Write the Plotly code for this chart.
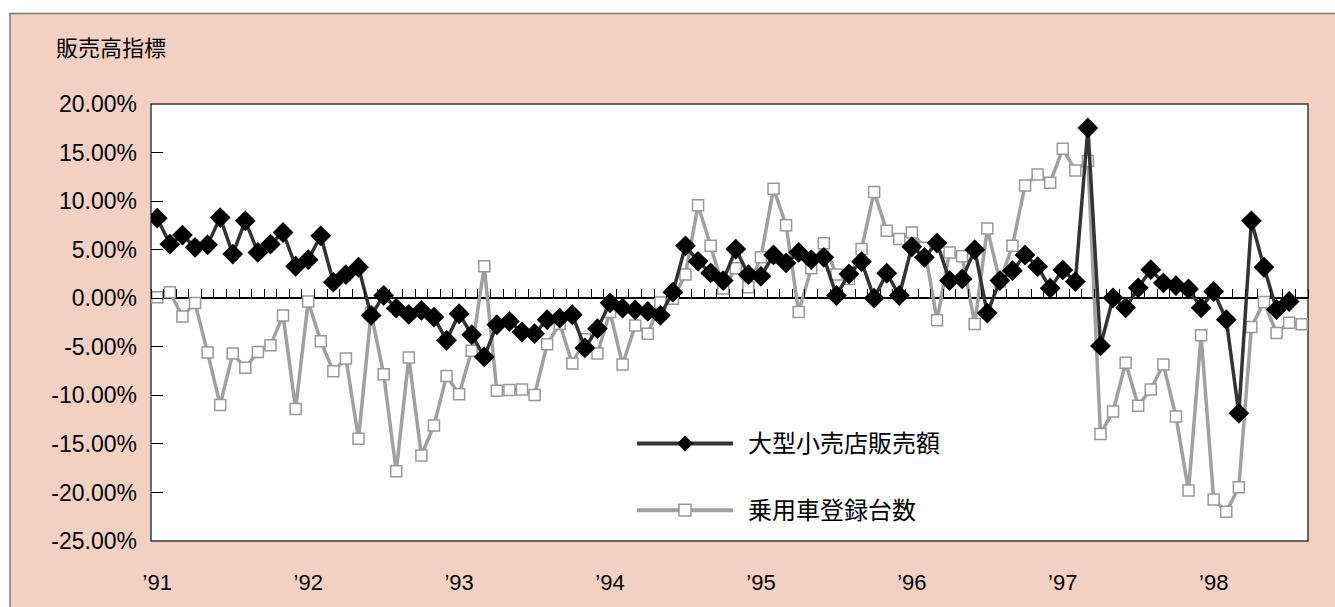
import plotly.graph_objects as go

# Monthly series, Jan 1991 – Aug 1998 (year-on-year change, %)
months = [f"{y}-{m:02d}" for y in range(1991, 1999) for m in range(1, 13)][:92]

# 大型小売店販売額 (ends Jul 1998)
retail_sales = [
    8.24, 5.57, 6.50, 5.24, 5.50, 8.30, 4.55, 7.97, 4.72, 5.57, 6.77, 3.29,
    3.97, 6.43, 1.65, 2.43, 3.19, -1.77, 0.28, -1.02, -1.67, -1.26, -1.94, -4.33,
    -1.60, -3.75, -6.04, -2.73, -2.39, -3.48, -3.65, -2.21, -2.04, -1.70, -5.12, -3.14,
    -0.47, -1.02, -1.19, -1.36, -1.77, 0.62, 5.40, 3.80, 2.60, 1.82, 5.06, 2.43,
    2.26, 4.45, 3.63, 4.72, 3.97, 4.21, 0.28, 2.50, 3.76, 0.01, 2.57, 0.28,
    5.30, 4.21, 5.68, 1.82, 1.99, 4.99, -1.53, 1.82, 2.84, 4.45, 3.25, 1.03,
    2.91, 1.71, 17.54, -4.91, 0.04, -0.98, 1.07, 2.94, 1.58, 1.30, 0.96, -0.98,
    0.69, -2.21, -11.85, 7.97, 3.19, -1.16, -0.34,
]

# 乗用車登録台数 (ends Aug 1998)
car_registrations = [
    0.11, 0.62, -1.87, -0.50, -5.60, -11.00, -5.70, -7.17, -5.53, -4.85, -1.77, -11.40,
    -0.34, -4.44, -7.51, -6.21, -14.48, -1.50, -7.82, -17.83, -6.11, -16.20, -13.11, -8.02,
    -9.90, -5.42, 3.29, -9.52, -9.46, -9.39, -9.97, -4.74, -2.62, -6.72, -4.23, -5.70,
    -1.43, -6.83, -2.80, -3.65, -0.45, -0.05, 2.45, 9.57, 5.40, 1.00, 3.08, 1.14,
    4.21, 11.28, 7.52, -1.43, 3.08, 5.65, 2.43, 1.99, 5.06, 10.94, 6.94, 6.09,
    6.77, 5.20, -2.28, 4.72, 4.31, -2.65, 7.18, 1.71, 5.40, 11.62, 12.75, 11.90,
    15.38, 13.16, 14.12, -13.97, -11.67, -6.65, -11.06, -9.39, -6.83, -12.19, -19.81, -3.82,
    -20.73, -22.00, -19.47, -2.97, -0.40, -3.58, -2.52, -2.69,
]

year_ticks = [f"{y}-01" for y in range(1991, 1999)]
year_labels = [f"’{str(y)[2:]}" for y in range(1991, 1999)]
y_ticks = [20, 15, 10, 5, 0, -5, -10, -15, -20, -25]
y_labels = [f"{v:.2f}%" for v in y_ticks]

series_names = ["大型小売店販売額", "乗用車登録台数"]
dark = "#333333"
light = "#A0A0A0"
peach = "#F2D1C3"
font_family = "Liberation Sans, Arial, Noto Sans CJK JP, sans-serif"

W, H = 1335, 607
L, T, R, B = 151, 104, 27, 64
pw, ph = W - L - R, H - T - B
Y_MIN, Y_MAX = -25, 20


def px(x):
    return (x - L) / pw


def py(y):
    return (H - B - y) / ph


fig = go.Figure()

fig.add_trace(go.Scatter(
    x=months, y=car_registrations, mode="lines+markers", name=series_names[1],
    line=dict(color=light, width=3.5),
    marker=dict(symbol="square", size=11, color="white",
                line=dict(color="#999999", width=1.5)),
    showlegend=False,
))
fig.add_trace(go.Scatter(
    x=months[:len(retail_sales)], y=retail_sales, mode="lines+markers",
    name=series_names[0],
    line=dict(color=dark, width=3.5),
    marker=dict(symbol="diamond", size=16, color="black",
                line=dict(color="black", width=0)),
    showlegend=False,
))
# carrier for the month-boundary tick axis drawn along the zero line
fig.add_trace(go.Scatter(
    x=list(range(len(months))), y=car_registrations, xaxis="x2",
    mode="markers", marker=dict(opacity=0), hoverinfo="skip", showlegend=False,
))

shapes = [
    # chart frame
    dict(type="rect", xref="paper", yref="paper",
         x0=px(10), y0=py(H + 20), x1=px(W + 20), y1=py(13),
         fillcolor=peach, line=dict(color="#7a7a7a", width=1.5), layer="below"),
    # plot area
    dict(type="rect", xref="paper", yref="paper", x0=0, y0=0, x1=1, y1=1,
         fillcolor="white", line=dict(color="#3a3a3a", width=1.5), layer="below"),
]

# legend keys
legend_rows = [(445, dark, "diamond"), (512, light, "square")]
annotations = []
for (ly, col, sym), name in zip(legend_rows, series_names):
    shapes.append(dict(type="line", xref="paper", yref="paper",
                       x0=px(637), x1=px(733), y0=py(ly), y1=py(ly),
                       line=dict(color=col, width=4), layer="above"))
    cx, cy = 685, ly
    if sym == "diamond":
        d = 8
        path = (f"M{px(cx - d)},{py(cy)} L{px(cx)},{py(cy - d)} "
                f"L{px(cx + d)},{py(cy)} L{px(cx)},{py(cy + d)} Z")
        shapes.append(dict(type="path", xref="paper", yref="paper", path=path,
                           fillcolor="black", line=dict(width=0), layer="above"))
    else:
        s = 6
        shapes.append(dict(type="rect", xref="paper", yref="paper",
                           x0=px(cx - s), x1=px(cx + s), y0=py(cy + s), y1=py(cy - s),
                           fillcolor="white", line=dict(color="#999999", width=1.5),
                           layer="above"))
    annotations.append(dict(xref="paper", yref="paper", x=px(746), y=py(ly),
                            xanchor="left", yanchor="middle", showarrow=False,
                            text=name, font=dict(size=24, color="black")))

annotations.append(dict(xref="paper", yref="paper", x=px(54), y=py(48),
                        xanchor="left", yanchor="middle", showarrow=False,
                        text="販売高指標", font=dict(size=22, color="black")))

zero_pos = (0 - Y_MIN) / (Y_MAX - Y_MIN)

fig.update_layout(
    width=W, height=H,
    margin=dict(l=L, r=R, t=T, b=B, pad=0),
    paper_bgcolor="white", plot_bgcolor="white",
    font=dict(family=font_family, size=22, color="black"),
    shapes=shapes, annotations=annotations,
    showlegend=False,
    xaxis=dict(
        type="category", categoryorder="array", categoryarray=months,
        range=[-0.5, len(months) - 0.5],
        tickvals=year_ticks, ticktext=year_labels,
        ticks="", showgrid=False, zeroline=False,
        showline=False, ticklabelstandoff=26,
        tickfont=dict(size=22),
    ),
    xaxis2=dict(
        overlaying="x", anchor="free", position=zero_pos, side="top",
        range=[-0.5, len(months) - 0.5], tick0=0.5, dtick=1,
        ticks="outside", ticklen=9, tickwidth=1.2, tickcolor="black",
        showticklabels=False, showgrid=False, zeroline=False, showline=False,
    ),
    yaxis=dict(
        range=[Y_MIN, Y_MAX], tickvals=y_ticks, ticktext=y_labels,
        ticks="inside", ticklen=12, tickwidth=1.2, tickcolor="black",
        showgrid=False, zeroline=True, zerolinecolor="black", zerolinewidth=1.5,
        showline=False, ticklabelstandoff=13,
        tickfont=dict(size=23),
    ),
)

fig.write_html("out.html")
